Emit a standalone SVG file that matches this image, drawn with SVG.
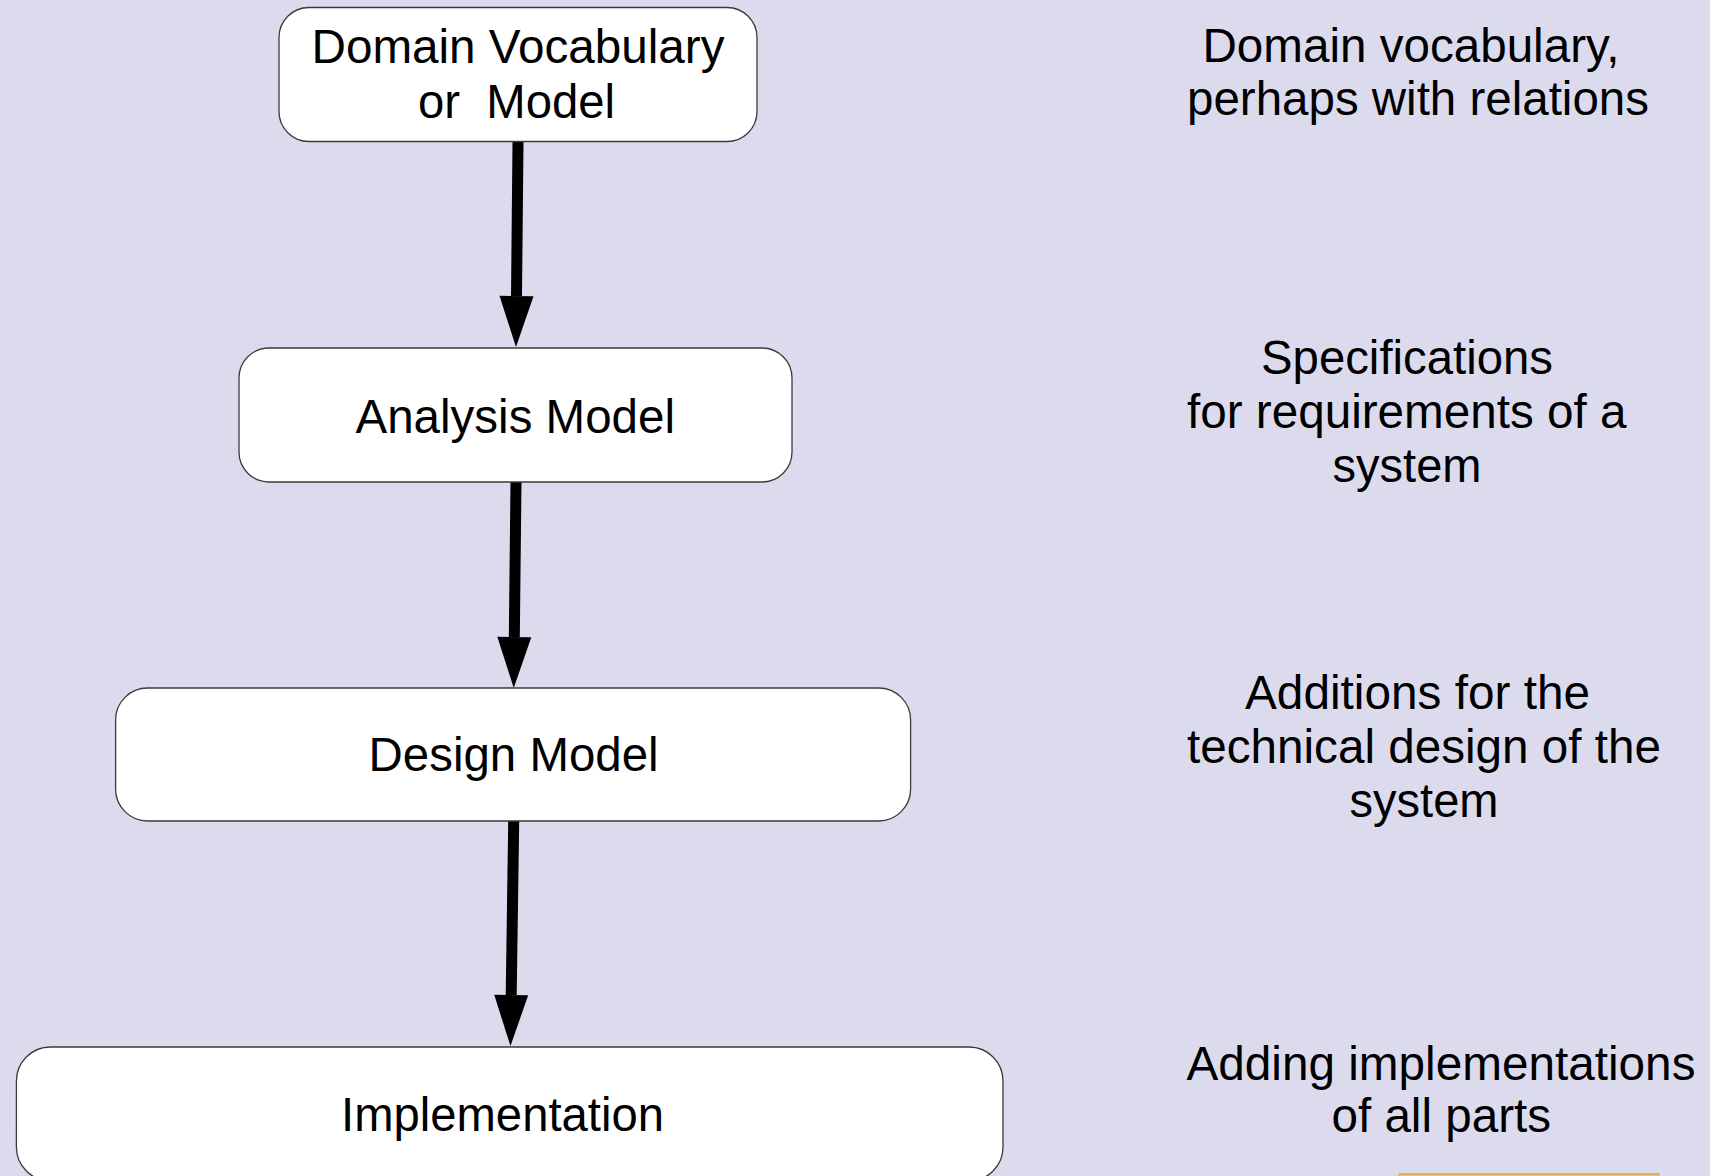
<svg xmlns="http://www.w3.org/2000/svg" width="1710" height="1176" viewBox="0 0 1710 1176">
  <style>
    .node rect { fill: #ffffff; stroke: #3a3a3a; stroke-width: 1.3; }
    text { font-family: "Liberation Sans", Arial, sans-serif; font-size: 47.5px; fill: #000000; }
    .edge { stroke: #000000; stroke-width: 11; fill: none; marker-end: url(#head); }
  </style>
  <defs>
    <marker id="head" markerUnits="userSpaceOnUse" markerWidth="52" markerHeight="36" refX="0" refY="17" orient="auto" overflow="visible">
      <path d="M0,0 L51,17 L0,34 Z" fill="#000000"/>
    </marker>
    <linearGradient id="goldStrip" x1="0" y1="0" x2="0" y2="1">
      <stop offset="0" stop-color="#e2a24a"/>
      <stop offset="1" stop-color="#f7e3b0"/>
    </linearGradient>
  </defs>

  <!-- background -->
  <rect x="0" y="0" width="1710" height="1176" fill="#dcdbee"/>

  <!-- connectors -->
  <g id="connectors">
    <line class="edge" x1="518" y1="142" x2="516.5" y2="296"/>
    <line class="edge" x1="516" y1="482" x2="514.3" y2="637"/>
    <line class="edge" x1="513.7" y1="821" x2="511.2" y2="995"/>
  </g>

  <!-- nodes -->
  <g id="domain-model" class="node">
    <rect x="279" y="7.5" width="478" height="134" rx="30" ry="30"/>
    <text x="311.5" y="63" textLength="413" lengthAdjust="spacingAndGlyphs">Domain Vocabulary</text>
    <text x="418" y="118" textLength="197" lengthAdjust="spacingAndGlyphs" xml:space="preserve">or  Model</text>
  </g>
  <g id="analysis-model" class="node">
    <rect x="239" y="348" width="553" height="134" rx="30" ry="30"/>
    <text x="355.5" y="433" textLength="319.5" lengthAdjust="spacingAndGlyphs">Analysis Model</text>
  </g>
  <g id="design-model" class="node">
    <rect x="115.6" y="688" width="795" height="133" rx="32" ry="32"/>
    <text x="368.6" y="771" textLength="290" lengthAdjust="spacingAndGlyphs">Design Model</text>
  </g>
  <g id="implementation" class="node">
    <rect x="16.4" y="1047" width="986.6" height="134" rx="34" ry="34"/>
    <text x="341" y="1131" textLength="323" lengthAdjust="spacingAndGlyphs">Implementation</text>
  </g>

  <!-- descriptions -->
  <g id="notes">
    <text x="1202.5" y="62" textLength="417" lengthAdjust="spacingAndGlyphs">Domain vocabulary,</text>
    <text x="1187" y="115" textLength="462" lengthAdjust="spacingAndGlyphs">perhaps with relations</text>

    <text x="1261" y="374" textLength="292" lengthAdjust="spacingAndGlyphs">Specifications</text>
    <text x="1187" y="428" textLength="439.5" lengthAdjust="spacingAndGlyphs">for requirements of a</text>
    <text x="1332.5" y="482" textLength="149" lengthAdjust="spacingAndGlyphs">system</text>

    <text x="1245" y="709" textLength="345" lengthAdjust="spacingAndGlyphs">Additions for the</text>
    <text x="1187" y="763" textLength="474" lengthAdjust="spacingAndGlyphs">technical design of the</text>
    <text x="1349.5" y="817" textLength="149" lengthAdjust="spacingAndGlyphs">system</text>

    <text x="1186.5" y="1080" textLength="509" lengthAdjust="spacingAndGlyphs">Adding implementations</text>
    <text x="1331.5" y="1132" textLength="219.5" lengthAdjust="spacingAndGlyphs">of all parts</text>
  </g>

  <!-- strip at the lower right edge -->
  <rect x="1398" y="1173" width="262" height="6" rx="2" fill="url(#goldStrip)"/>
</svg>
